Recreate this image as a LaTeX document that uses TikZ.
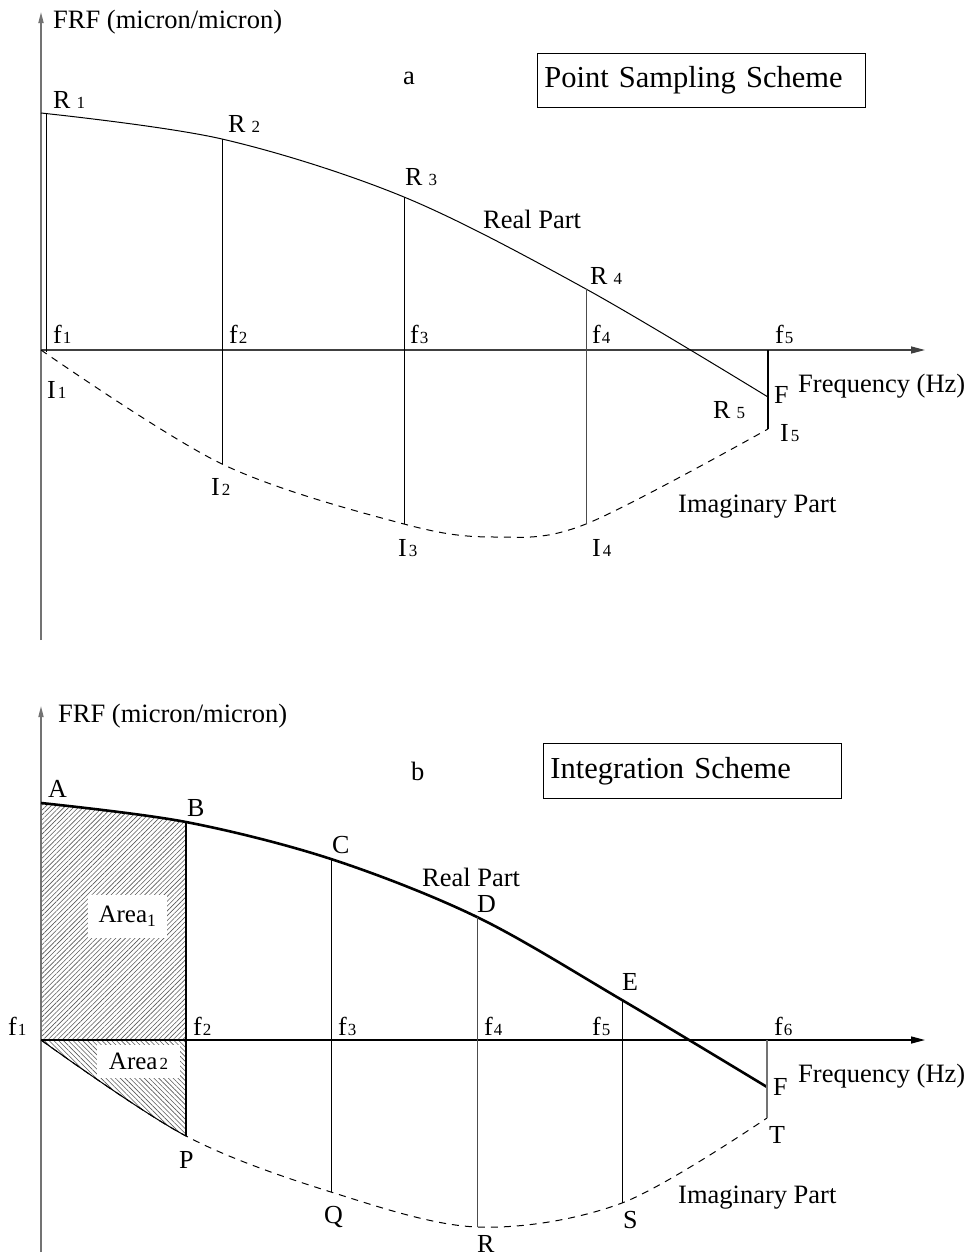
\documentclass[tikz,border=0pt]{standalone}
\usepackage{fontspec}
\setmainfont{Liberation Serif}
\usetikzlibrary{arrows.meta,patterns.meta}

% small index digit set on the baseline after a letter, with a given gap
\newcommand{\idx}[2][3pt]{\hspace{#1}{\fontsize{17}{17}\selectfont #2}}

\begin{document}
\begin{tikzpicture}[x=1pt,y=-1pt,
  lab/.style={anchor=base west, inner sep=0pt, font=\fontsize{26}{26}\selectfont},
  txt/.style={anchor=base west, inner sep=0pt, font=\fontsize{26.5}{26.5}\selectfont},
  titlebox/.style={draw, line width=0.8pt, anchor=north west, align=left,
    inner xsep=7pt, inner ysep=0pt, font=\fontsize{30.5}{30.5}\selectfont},
  yaxis/.style={line width=1.6pt, black!55, -{Triangle[length=11pt,width=5pt]}},
  xaxis/.style={line width=1.4pt, -{Triangle[length=14pt,width=7pt]}},
  curve/.style={line width=1pt},
  thick curve/.style={line width=2.6pt},
  imag/.style={line width=1pt, dash pattern=on 7pt off 6pt},
  sample/.style={line width=1pt},
  arealabel/.style={fill=white, inner sep=0pt, font=\fontsize{25}{25}\selectfont},
  hatch/.style={pattern color=black!65}
]
\useasboundingbox (0,0) rectangle (970,1256);

% ---------------- (a) point sampling ----------------
\coordinate (ayb) at (41,640);
\coordinate (ayt) at (41,12);
\coordinate (axl) at (41,350);
\coordinate (axr) at (925,350);
\coordinate (R1) at (41,113);
\coordinate (r1) at (46,114);
\coordinate (r1b) at (46,352);
\coordinate (R2) at (222,139);
\coordinate (R3) at (404,197);
\coordinate (R4) at (586,289);
\coordinate (R5) at (768,397);
\coordinate (f5a) at (768,350);
\coordinate (I1) at (41,350);
\coordinate (I2) at (222,464);
\coordinate (I3) at (404,524);
\coordinate (Imin) at (495,537);
\coordinate (I4) at (586,524);
\coordinate (I5) at (768,429);

\draw[yaxis] (ayb) -- (ayt);
\draw[xaxis, black!75] (axl) -- (axr);
\draw[curve] plot[smooth, tension=0.55] coordinates {(R1) (R2) (R3) (R4) (R5)};
\draw[imag] plot[smooth, tension=0.55] coordinates {(I1) (I2) (I3) (Imin) (I4) (I5)};
\draw[sample] (r1) -- (r1b);
\draw[sample] (R2) -- (I2);
\draw[sample] (R3) -- (I3);
\draw[sample, black!70] (R4) -- (I4);
\draw[line width=2pt] (f5a) -- (I5);

\node[txt] (ya) at (53,28) {FRF (micron/micron)};
\node[txt] (pa) at (403,84) {a};
\node[titlebox, text width=314pt, minimum height=54pt] (boxa) at (537,53) {Point Sampling Scheme};
\node[lab] (lR1) at (53,108) {R\idx[6pt]{1}};
\node[lab] (lR2) at (228,132) {R\idx[6pt]{2}};
\node[lab] (lR3) at (405,185) {R\idx[6pt]{3}};
\node[lab] (lR4) at (590,284) {R\idx[6pt]{4}};
\node[lab] (lR5) at (713,418) {R\idx[6pt]{5}};
\node[lab] (lFa) at (774,403) {F};
\node[lab] (lf1) at (53,343) {f\idx[1pt]{1}};
\node[lab] (lf2) at (229,343) {f\idx[1pt]{2}};
\node[lab] (lf3) at (410,343) {f\idx[1pt]{3}};
\node[lab] (lf4) at (592,343) {f\idx[1pt]{4}};
\node[lab] (lf5) at (775,343) {f\idx[1pt]{5}};
\node[lab] (lI1) at (47,398) {I\idx[2pt]{1}};
\node[lab] (lI2) at (211,495) {I\idx[2pt]{2}};
\node[lab] (lI3) at (398,556) {I\idx[2pt]{3}};
\node[lab] (lI4) at (592,556) {I\idx[2pt]{4}};
\node[lab] (lI5) at (780,441) {I\idx[2pt]{5}};
\node[txt] (rpa) at (483,228) {Real Part};
\node[txt] (ipa) at (678,512) {Imaginary Part};
\node[txt] (fqa) at (798,392) {Frequency (Hz)};

% ---------------- (b) integration ----------------
\coordinate (byb) at (41,1252);
\coordinate (byt) at (41,706);
\coordinate (bxl) at (41,1040);
\coordinate (bxr) at (925,1040);
\coordinate (A) at (41,803);
\coordinate (B) at (186,822);
\coordinate (C) at (331,859);
\coordinate (D) at (477,917);
\coordinate (E) at (622,1000);
\coordinate (F) at (767,1087);
\coordinate (f6b) at (767,1040);
\coordinate (O) at (41,1040);
\coordinate (P) at (186,1136);
\coordinate (Q) at (331,1192);
\coordinate (R) at (477,1227);
\coordinate (S) at (622,1203);
\coordinate (T) at (767,1118);

% hatched areas between the curves and the frequency axis, f1..f2
\begin{scope}
  \clip (41,780) rectangle (186,1040);
  \fill[hatch, pattern={Lines[angle=45,distance=3.4pt,line width=0.6pt]}]
    plot[smooth, tension=0.55] coordinates {(A) (B) (C) (D) (E) (F)} -- (f6b) -- (O) -- cycle;
\end{scope}
\begin{scope}
  \clip (41,1040) rectangle (186,1160);
  \fill[hatch, pattern={Lines[angle=-45,distance=3.4pt,line width=0.6pt]}]
    plot[smooth, tension=0.55] coordinates {(O) (P) (Q) (R) (S) (T)} -- (f6b) -- cycle;
  \draw[curve] plot[smooth, tension=0.55] coordinates {(O) (P) (Q) (R) (S) (T)};
\end{scope}

\draw[yaxis] (byb) -- (byt);
\draw[xaxis] (bxl) -- (bxr);
\draw[thick curve] plot[smooth, tension=0.55] coordinates {(A) (B) (C) (D) (E) (F)};
\draw[imag] plot[smooth, tension=0.55] coordinates {(O) (P) (Q) (R) (S) (T)};
\draw[line width=1.3pt] (B) -- (P);
\draw[sample] (C) -- (Q);
\draw[sample, black!70] (D) -- (R);
\draw[sample] (E) -- (S);
\draw[sample, black!55, line width=1.5pt] (f6b) -- (T);

\node[arealabel, minimum width=79pt, minimum height=43pt] (ar1) at (127.5,916.5) {Area\textsubscript{1}};
\node[arealabel, minimum width=83pt, minimum height=33pt] (ar2) at (138.5,1061.5) {Area\idx[2pt]{2}};

\node[txt] (yb) at (58,722) {FRF (micron/micron)};
\node[txt] (pb) at (411,780) {b};
\node[titlebox, text width=284pt, minimum height=55pt] (boxb) at (543,743) {Integration Scheme};
\node[lab] (lA) at (48,797) {A};
\node[lab] (lB) at (187,816) {B};
\node[lab] (lC) at (332,853) {C};
\node[lab] (lD) at (477,912) {D};
\node[lab] (lE) at (622,990) {E};
\node[lab] (lF) at (773,1095) {F};
\node[lab] (lT) at (769,1143) {T};
\node[lab] (lP) at (179,1168) {P};
\node[lab] (lQ) at (324,1223) {Q};
\node[lab] (lR) at (477,1252) {R};
\node[lab] (lS) at (623,1228) {S};
\node[lab] (g1) at (8,1035) {f\idx[1pt]{1}};
\node[lab] (g2) at (193,1035) {f\idx[1pt]{2}};
\node[lab] (g3) at (338,1035) {f\idx[1pt]{3}};
\node[lab] (g4) at (484,1035) {f\idx[1pt]{4}};
\node[lab] (g5) at (592,1035) {f\idx[1pt]{5}};
\node[lab] (g6) at (774,1035) {f\idx[1pt]{6}};
\node[txt] (rpb) at (422,886) {Real Part};
\node[txt] (ipb) at (678,1203) {Imaginary Part};
\node[txt] (fqb) at (798,1082) {Frequency (Hz)};
\end{tikzpicture}
\end{document}
